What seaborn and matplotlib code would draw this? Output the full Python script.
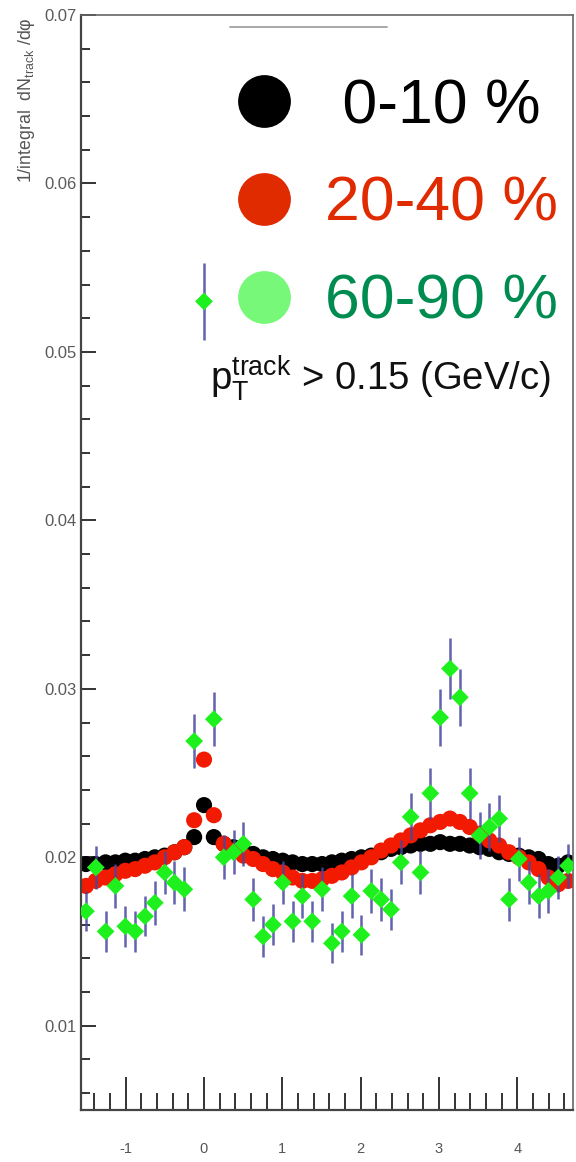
import numpy as np
import pandas as pd
import matplotlib
matplotlib.use("Agg")
import matplotlib.pyplot as plt
from matplotlib.lines import Line2D
from matplotlib.ticker import MultipleLocator, FormatStrFormatter
import seaborn as sns

# ---------------- data ----------------
n_bins = 50
dphi = -np.pi / 2 + (np.arange(n_bins) + 0.5) * 2 * np.pi / n_bins

cent_0_10 = [0.0196, 0.0196, 0.0197, 0.0197, 0.0198, 0.0198, 0.0199, 0.0200, 0.0201, 0.0203,
             0.0206, 0.0212, 0.0231, 0.0212, 0.0208, 0.0206, 0.0204, 0.0202, 0.0200, 0.0199,
             0.0198, 0.0197, 0.0196, 0.0196, 0.0196, 0.0197, 0.0198, 0.0199, 0.0200, 0.0201,
             0.0203, 0.0205, 0.0206, 0.0207, 0.0208, 0.0208, 0.0209, 0.0208, 0.0208, 0.0207,
             0.0206, 0.0205, 0.0203, 0.0202, 0.0201, 0.0200, 0.0199, 0.0196, 0.0195, 0.0197]

cent_20_40 = [0.0183, 0.0186, 0.0188, 0.0190, 0.0192, 0.0193, 0.0195, 0.0197, 0.0200, 0.0203,
              0.0206, 0.0222, 0.0258, 0.0225, 0.0208, 0.0204, 0.0201, 0.0199, 0.0196, 0.0193,
              0.0191, 0.0188, 0.0186, 0.0186, 0.0187, 0.0189, 0.0191, 0.0194, 0.0197, 0.0200,
              0.0204, 0.0207, 0.0210, 0.0213, 0.0216, 0.0219, 0.0221, 0.0223, 0.0221, 0.0218,
              0.0214, 0.0210, 0.0207, 0.0203, 0.0200, 0.0197, 0.0193, 0.0188, 0.0184, 0.0186]

cent_60_90 = [0.0168, 0.0194, 0.0156, 0.0183, 0.0159, 0.0156, 0.0165, 0.0173, 0.0191, 0.0185,
              0.0181, 0.0269, 0.0530, 0.0282, 0.0200, 0.0203, 0.0208, 0.0175, 0.0153, 0.0160,
              0.0185, 0.0162, 0.0177, 0.0162, 0.0181, 0.0149, 0.0156, 0.0177, 0.0154, 0.0180,
              0.0175, 0.0169, 0.0197, 0.0224, 0.0191, 0.0238, 0.0283, 0.0312, 0.0295, 0.0238,
              0.0213, 0.0218, 0.0223, 0.0175, 0.0199, 0.0185, 0.0177, 0.0180, 0.0188, 0.0195]

err_60_90 = [0.0012, 0.0013, 0.0012, 0.0013, 0.0012, 0.0012, 0.0012, 0.0013, 0.0013, 0.0013,
             0.0013, 0.0016, 0.0023, 0.0016, 0.0013, 0.0013, 0.0013, 0.0013, 0.0012, 0.0012,
             0.0013, 0.0012, 0.0013, 0.0012, 0.0013, 0.0012, 0.0012, 0.0013, 0.0012, 0.0013,
             0.0013, 0.0012, 0.0013, 0.0014, 0.0013, 0.0015, 0.0017, 0.0018, 0.0017, 0.0015,
             0.0014, 0.0014, 0.0014, 0.0013, 0.0013, 0.0013, 0.0013, 0.0013, 0.0013, 0.0013]

legend_labels = [" 0-10 %", "20-40 %", "60-90 %"]
y_ticks = [0.01, 0.02, 0.03, 0.04, 0.05, 0.06, 0.07]
x_ticks = [-1, 0, 1, 2, 3, 4]

# ---------------- style ----------------
sns.set_theme(style="white")
plt.rcParams["font.family"] = ["Liberation Sans", "DejaVu Sans"]
plt.rcParams["mathtext.fontset"] = "custom"
plt.rcParams["mathtext.rm"] = "Liberation Sans"
plt.rcParams["mathtext.it"] = "Liberation Sans:italic"
plt.rcParams["axes.unicode_minus"] = False

W, H = 576, 1162
fig = plt.figure(figsize=(W / 100, H / 100), dpi=100)
ax = fig.add_axes([81 / W, 1 - 1110 / H, (573 - 81) / W, (1110 - 15) / H])
ax.set_facecolor("white")

# ---------------- marks ----------------
df_main = pd.DataFrame({
    "dphi": np.concatenate([dphi, dphi]),
    "value": np.concatenate([cent_0_10, cent_20_40]),
    "centrality": ["0-10 %"] * n_bins + ["20-40 %"] * n_bins,
})
sns.scatterplot(data=df_main, x="dphi", y="value", hue="centrality",
                palette={"0-10 %": "#000000", "20-40 %": "#f21a00"},
                s=135, edgecolor="none", linewidth=0, legend=False, ax=ax, zorder=2)

ax.errorbar(dphi, cent_60_90, yerr=err_60_90, fmt="none", ecolor="#4646a0",
            elinewidth=1.8, capsize=0, alpha=0.85, zorder=3)
sns.scatterplot(x=dphi, y=cent_60_90, marker="D", s=82, color="#1ef01e",
                edgecolor="none", linewidth=0, legend=False, ax=ax, zorder=4)

# ---------------- axes ----------------
ax.set_xlim(-np.pi / 2, 3 * np.pi / 2)
ax.set_ylim(0.005, 0.07)
ax.set_xlabel("")
ax.set_ylabel("")
ax.set_xticks(x_ticks)
ax.xaxis.set_minor_locator(MultipleLocator(0.2))
ax.set_yticks(y_ticks)
ax.yaxis.set_minor_locator(MultipleLocator(0.002))
ax.yaxis.set_major_formatter(FormatStrFormatter("%.2f"))

ax.tick_params(which="both", bottom=True, left=True, top=False, right=False)
ax.tick_params(axis="x", which="major", direction="in", length=24, width=1.4,
               color="#333333", pad=23, labelsize=10.5, labelcolor="#555555")
ax.tick_params(axis="x", which="minor", direction="in", length=12, width=1.4,
               color="#333333")
ax.tick_params(axis="y", which="major", direction="in", length=11, width=1.4,
               color="#333333", pad=3, labelsize=12, labelcolor="#5a5a5a")
ax.tick_params(axis="y", which="minor", direction="in", length=6.5, width=1.4,
               color="#333333")

for side in ["left", "bottom"]:
    ax.spines[side].set_color("#444444")
    ax.spines[side].set_linewidth(1.6)
for side in ["top", "right"]:
    ax.spines[side].set_color("#666666")
    ax.spines[side].set_linewidth(1.2)

fig.text(27 / W, 1 - 17 / H, "1/integral  dN$_{\\mathrm{track}}$ /dφ",
         rotation=90, ha="center", va="top", fontsize=12.8, color="#555555")

# ---------------- legend ----------------
handles = [
    Line2D([], [], ls="", marker="o", markersize=38, markerfacecolor=c, markeredgecolor="none")
    for c in ["#000000", "#e02a00", "#78f878"]
]
leg = ax.legend(handles, legend_labels, loc="upper left",
                bbox_to_anchor=(237 / W, 1 - 77 / H), bbox_transform=fig.transFigure,
                frameon=False, fontsize=45, handlelength=0.85, handletextpad=0.56,
                labelspacing=0.62, borderpad=0, borderaxespad=0,
                labelcolor=["#000000", "#e02a00", "#008c50"])

fig.text(210 / W, 1 - 390 / H, r"p$_{\mathrm{T}}^{\mathrm{track}}$ > 0.15 (GeV/c)",
         ha="left", va="baseline", fontsize=27.5, color="#111111")

fig.add_artist(Line2D([230 / W, 387 / W], [1 - 27 / H, 1 - 27 / H],
                      transform=fig.transFigure, color="#999999", lw=1.2))

fig.savefig("out.png", dpi=100, facecolor="white")
